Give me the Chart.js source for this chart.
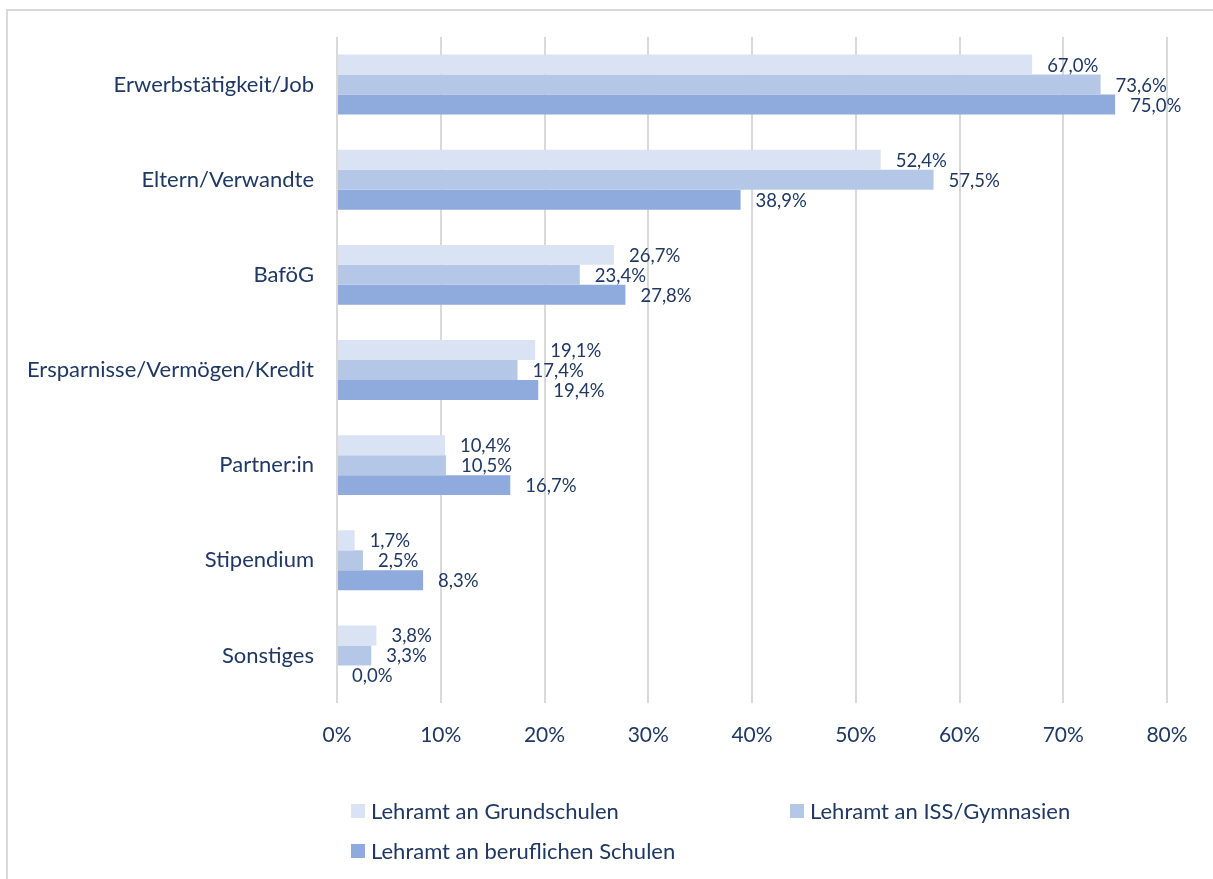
<!DOCTYPE html>
<html lang="de">
<head>
<meta charset="utf-8">
<title>Finanzierung des Studiums</title>
<script src="https://cdn.jsdelivr.net/npm/chart.js@4.4.1/dist/chart.umd.min.js"></script>
<style>
  html, body { margin: 0; padding: 0; background: #fff; overflow: hidden; }
  #wrap { position: relative; width: 1213px; height: 879px; }
  #frame {
    position: absolute; left: 6px; top: 9px; width: 1300px; height: 1000px;
    border-left: 2px solid #d9d9d9; border-top: 2px solid #d9d9d9;
  }
  #chart { position: absolute; left: 0; top: 0; }
  .legend-item {
    position: absolute; display: flex; align-items: center;
    font-family: Lato, sans-serif; font-size: 22px; color: #1f3864;
  }
  .legend-item .box { width: 14px; height: 14px; margin-right: 6px; }
</style>
</head>
<body>
<div id="wrap">
  <div id="frame"></div>
  <canvas id="chart" width="1213" height="879"></canvas>
  <div id="legend"></div>
</div>
<script>
const categories = [
  'Erwerbstätigkeit/Job',
  'Eltern/Verwandte',
  'BaföG',
  'Ersparnisse/Vermögen/Kredit',
  'Partner:in',
  'Stipendium',
  'Sonstiges',
];
const seriesNames = [
  'Lehramt an Grundschulen',
  'Lehramt an ISS/Gymnasien',
  'Lehramt an beruflichen Schulen',
];
const grundschulen = [67.0, 52.4, 26.7, 19.1, 10.4, 1.7, 3.8];
const gymnasien = [73.6, 57.5, 23.4, 17.4, 10.5, 2.5, 3.3];
const beruflich = [75.0, 38.9, 27.8, 19.4, 16.7, 8.3, 0.0];
const seriesColors = ['#dae3f3', '#b4c7e7', '#8faadc'];
const xTicks = [0, 10, 20, 30, 40, 50, 60, 70, 80];

const TEXT = '#1f3864';
const FONT = 'Lato, sans-serif';

const fmt = (v) => v.toFixed(1).replace('.', ',') + '%';

// Wertebeschriftung rechts neben jedem Balken
const valueLabels = {
  id: 'valueLabels',
  afterDatasetsDraw(chart) {
    const ctx = chart.ctx;
    ctx.save();
    ctx.font = `18.5px ${FONT}`;
    ctx.fillStyle = TEXT;
    ctx.textAlign = 'left';
    ctx.textBaseline = 'middle';
    chart.data.datasets.forEach((ds, i) => {
      const meta = chart.getDatasetMeta(i);
      meta.data.forEach((bar, j) => {
        ctx.fillText(fmt(ds.data[j]), bar.x + 15, bar.y + 1);
      });
    });
    ctx.restore();
  },
};

const datasets = [grundschulen, gymnasien, beruflich].map((data, i) => ({
  label: seriesNames[i],
  data,
  backgroundColor: seriesColors[i],
  barPercentage: 1.0,
  categoryPercentage: 0.63,
}));

new Chart(document.getElementById('chart'), {
  type: 'bar',
  data: { labels: categories, datasets },
  options: {
    indexAxis: 'y',
    responsive: false,
    animation: false,
    layout: { padding: { top: 37, right: 46, bottom: 116, left: 0 } },
    plugins: {
      legend: { display: false },
      tooltip: { enabled: false },
    },
    scales: {
      x: {
        min: xTicks[0],
        max: xTicks[xTicks.length - 1],
        afterBuildTicks: (axis) => { axis.ticks = xTicks.map(v => ({ value: v })); },
        afterFit: (axis) => { axis.height = 60; },
        grid: { color: '#d9d9d9', lineWidth: 2, drawTicks: false },
        border: { display: false },
        ticks: {
          padding: 20,
          color: TEXT,
          font: { family: FONT, size: 21 },
          callback: (v) => v + '%',
        },
      },
      y: {
        afterFit: (axis) => { axis.width = 337; },
        grid: { display: false },
        border: { display: false },
        ticks: {
          padding: 15,
          color: TEXT,
          font: { family: FONT, size: 22 },
        },
      },
    },
  },
  plugins: [valueLabels],
});

// Legende als HTML, Anordnung wie im Original (2 Spalten)
const legendPos = [[351, 811], [790, 811], [351, 851]];
const legend = document.getElementById('legend');
seriesNames.forEach((name, i) => {
  const item = document.createElement('div');
  item.className = 'legend-item';
  item.style.left = legendPos[i][0] + 'px';
  item.style.top = (legendPos[i][1] - 14) + 'px';
  item.innerHTML = '<span class="box"></span><span class="txt"></span>';
  item.querySelector('.box').style.background = seriesColors[i];
  item.querySelector('.txt').textContent = name;
  legend.appendChild(item);
});
</script>
</body>
</html>
